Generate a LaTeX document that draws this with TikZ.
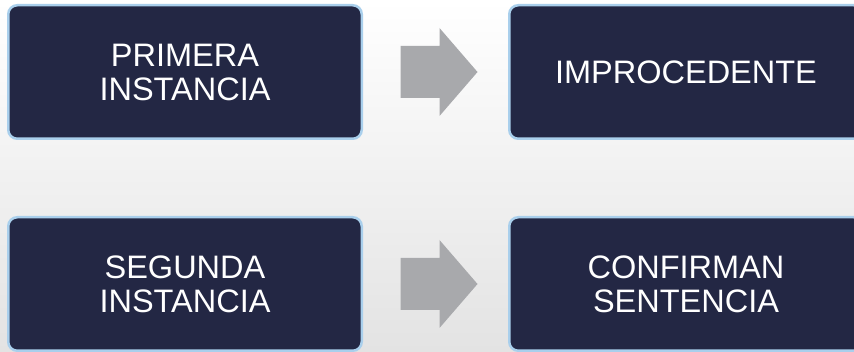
\documentclass[tikz,border=0pt]{standalone}
\usepackage{fontspec}
\setmainfont{Liberation Sans}
\usetikzlibrary{calc}
\definecolor{navy}{HTML}{232744}
\definecolor{rim}{HTML}{A9CFEC}
\definecolor{flecha}{HTML}{A8A9AC}
\tikzset{
caja/.style={draw=rim, line width=2.5pt, fill=navy, rounded corners=9pt,
  minimum width=353.5pt, minimum height=133.5pt, inner sep=0pt,
  text=white, align=center, font=\fontsize{32.5}{34}\selectfont},
flechita/.style={fill=flecha}
}
\begin{document}
\begin{tikzpicture}[x=1pt,y=-1pt]
\useasboundingbox (0,0) rectangle (854,352);
\clip (0,0) rectangle (854,352);
\shade[top color=white, bottom color=gray!22] (0,0) rectangle (854,352);

\coordinate (P) at (185,72);
\coordinate (I) at (686,72);
\coordinate (S) at (185,284);
\coordinate (C) at (686,284);

\node[caja] (pi) at (P) {PRIMERA\\INSTANCIA};
\node[caja] (im) at (I) {IMPROCEDENTE};
\node[caja] (si) at (S) {SEGUNDA\\INSTANCIA};
\node[caja] (cs) at (C) {CONFIRMAN\\SENTENCIA};

% flechas
\coordinate (f1) at ($(pi.east)+(37.5,0)$);
\coordinate (f2) at ($(si.east)+(37.5,0)$);
\foreach \f in {f1,f2}
\fill[flechita] (\f) ++(0,-26) -- ++(39,0) -- ++(0,-18) -- ++(38,44)
  -- ++(-38,44) -- ++(0,-18) -- ++(-39,0) -- cycle;

\end{tikzpicture}
\end{document}
